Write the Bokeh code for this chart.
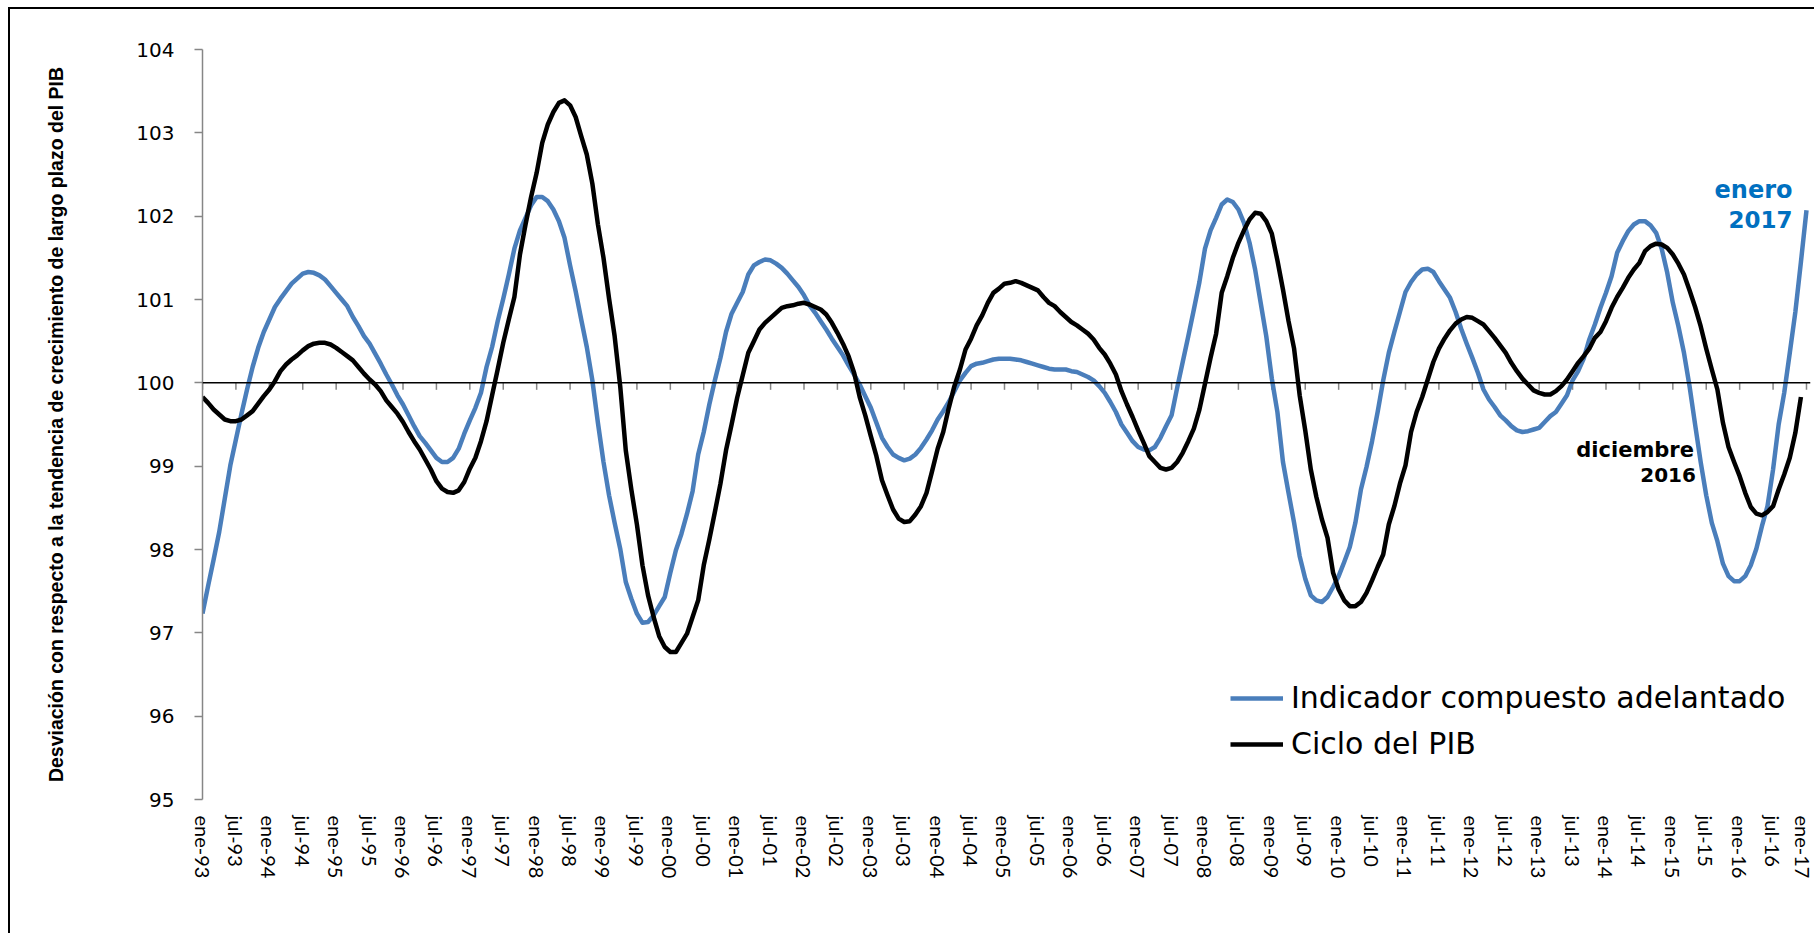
from bokeh.plotting import figure
from bokeh.models import Range1d, FixedTicker, Span, Legend, LegendItem, Label
from bokeh.embed import file_html
from bokeh.resources import INLINE

# Indicador compuesto adelantado, monthly from ene-1993 to ene-2017
indicador = [
    97.23, 97.56, 97.88, 98.21, 98.61, 99.01, 99.32, 99.63, 99.92, 100.19, 100.42, 100.61,
    100.76, 100.91, 101.01, 101.10, 101.19, 101.25, 101.31, 101.33, 101.32, 101.29, 101.24, 101.16,
    101.08, 101.00, 100.92, 100.79, 100.68, 100.56, 100.47, 100.35, 100.23, 100.10, 99.98, 99.85,
    99.74, 99.61, 99.48, 99.36, 99.28, 99.19, 99.10, 99.05, 99.05, 99.10, 99.21, 99.39,
    99.55, 99.70, 99.88, 100.19, 100.43, 100.74, 101.01, 101.30, 101.61, 101.83, 101.98, 102.13,
    102.23, 102.23, 102.18, 102.08, 101.94, 101.74, 101.41, 101.10, 100.76, 100.43, 100.03, 99.52,
    99.05, 98.65, 98.32, 98.01, 97.61, 97.41, 97.23, 97.12, 97.13, 97.21, 97.32, 97.43,
    97.72, 97.99, 98.19, 98.43, 98.70, 99.14, 99.41, 99.74, 100.03, 100.30, 100.61, 100.83,
    100.96, 101.09, 101.30, 101.41, 101.45, 101.48, 101.47, 101.43, 101.38, 101.31, 101.23, 101.15,
    101.05, 100.93, 100.84, 100.74, 100.64, 100.53, 100.43, 100.33, 100.21, 100.10, 99.98, 99.84,
    99.70, 99.52, 99.34, 99.23, 99.14, 99.10, 99.07, 99.09, 99.14, 99.22, 99.32, 99.43,
    99.56, 99.66, 99.77, 99.90, 100.03, 100.12, 100.20, 100.23, 100.24, 100.26, 100.28, 100.29,
    100.29, 100.29, 100.28, 100.27, 100.25, 100.23, 100.21, 100.19, 100.17, 100.16, 100.16, 100.16,
    100.14, 100.13, 100.10, 100.07, 100.03, 99.96, 99.88, 99.77, 99.65, 99.50, 99.40, 99.30,
    99.23, 99.20, 99.19, 99.23, 99.34, 99.48, 99.61, 99.94, 100.25, 100.56, 100.88, 101.21,
    101.61, 101.83, 101.98, 102.14, 102.20, 102.17, 102.08, 101.92, 101.68, 101.36, 100.96, 100.56,
    100.05, 99.65, 99.05, 98.68, 98.32, 97.92, 97.65, 97.45, 97.39, 97.37, 97.43, 97.55,
    97.68, 97.85, 98.03, 98.32, 98.72, 98.99, 99.30, 99.65, 100.03, 100.36, 100.61, 100.85,
    101.09, 101.21, 101.30, 101.36, 101.37, 101.33, 101.22, 101.12, 101.02, 100.85, 100.65, 100.47,
    100.30, 100.12, 99.92, 99.80, 99.71, 99.61, 99.55, 99.48, 99.43, 99.41, 99.42, 99.44,
    99.46, 99.53, 99.60, 99.65, 99.75, 99.85, 100.03, 100.14, 100.29, 100.52, 100.70, 100.90,
    101.08, 101.28, 101.56, 101.70, 101.82, 101.90, 101.94, 101.94, 101.89, 101.80, 101.61, 101.32,
    100.96, 100.68, 100.36, 99.96, 99.50, 99.05, 98.65, 98.32, 98.10, 97.83, 97.68, 97.62,
    97.62, 97.68, 97.81, 98.01, 98.28, 98.52, 98.96, 99.50, 99.88, 100.36, 100.85, 101.45,
    102.07,
]

# Ciclo del PIB, monthly from ene-1993 to dic-2016
ciclo = [
    99.83, 99.76, 99.68, 99.62, 99.56, 99.54, 99.54, 99.56, 99.61, 99.66, 99.75, 99.84,
    99.92, 100.02, 100.14, 100.22, 100.28, 100.33, 100.39, 100.44, 100.47, 100.48, 100.48, 100.46,
    100.42, 100.37, 100.32, 100.27, 100.19, 100.11, 100.04, 99.98, 99.90, 99.79, 99.71, 99.63,
    99.53, 99.41, 99.30, 99.20, 99.08, 98.96, 98.82, 98.73, 98.69, 98.68, 98.71, 98.81,
    98.97, 99.10, 99.30, 99.54, 99.85, 100.16, 100.48, 100.76, 101.03, 101.54, 101.90, 102.23,
    102.52, 102.88, 103.10, 103.25, 103.36, 103.39, 103.33, 103.19, 102.96, 102.74, 102.39, 101.90,
    101.50, 101.01, 100.56, 99.96, 99.19, 98.72, 98.30, 97.81, 97.45, 97.19, 96.96, 96.83,
    96.77, 96.77, 96.88, 96.99, 97.19, 97.39, 97.81, 98.12, 98.45, 98.79, 99.19, 99.50,
    99.82, 100.09, 100.36, 100.50, 100.64, 100.72, 100.78, 100.84, 100.90, 100.92, 100.93, 100.95,
    100.96, 100.94, 100.91, 100.88, 100.82, 100.72, 100.60, 100.47, 100.32, 100.12, 99.83, 99.61,
    99.36, 99.12, 98.83, 98.65, 98.48, 98.37, 98.33, 98.34, 98.42, 98.52, 98.68, 98.94,
    99.21, 99.41, 99.70, 99.96, 100.16, 100.40, 100.53, 100.69, 100.81, 100.96, 101.08, 101.13,
    101.19, 101.20, 101.22, 101.20, 101.17, 101.14, 101.11, 101.03, 100.96, 100.92, 100.85, 100.79,
    100.73, 100.69, 100.64, 100.59, 100.52, 100.42, 100.34, 100.23, 100.10, 99.90, 99.74, 99.59,
    99.43, 99.28, 99.12, 99.05, 98.98, 98.96, 98.98, 99.05, 99.16, 99.30, 99.45, 99.68,
    99.99, 100.30, 100.59, 101.08, 101.28, 101.50, 101.68, 101.83, 101.96, 102.04, 102.03, 101.94,
    101.79, 101.47, 101.12, 100.74, 100.41, 99.85, 99.43, 98.96, 98.63, 98.36, 98.14, 97.72,
    97.52, 97.39, 97.32, 97.32, 97.37, 97.48, 97.63, 97.79, 97.94, 98.30, 98.52, 98.79,
    99.01, 99.41, 99.65, 99.83, 100.04, 100.25, 100.41, 100.53, 100.63, 100.71, 100.76, 100.79,
    100.78, 100.74, 100.70, 100.62, 100.54, 100.45, 100.36, 100.24, 100.14, 100.05, 99.98, 99.91,
    99.88, 99.86, 99.86, 99.90, 99.96, 100.04, 100.14, 100.24, 100.32, 100.41, 100.54, 100.61,
    100.74, 100.90, 101.03, 101.14, 101.26, 101.36, 101.44, 101.58, 101.64, 101.67, 101.66, 101.62,
    101.54, 101.43, 101.30, 101.11, 100.91, 100.68, 100.41, 100.16, 99.92, 99.52, 99.23, 99.05,
    98.88, 98.68, 98.51, 98.43, 98.41, 98.45, 98.52, 98.72, 98.90, 99.10, 99.40, 99.83,
]

start_year = 1993
half_year_names = ["ene", "jul"]
y_ticks = [95, 96, 97, 98, 99, 100, 101, 102, 103, 104]
series_names = ["Indicador compuesto adelantado", "Ciclo del PIB"]
y_title = "Desviación con respecto a la tendencia de crecimiento de largo plazo del PIB"

months_ind = list(range(len(indicador)))
months_cic = list(range(len(ciclo)))

last_month = len(indicador) - 1
x_ticks = list(range(0, last_month + 1, 6))
x_labels = {}
for t in x_ticks:
    yr = start_year + t // 12
    nm = half_year_names[(t % 12) // 6]
    x_labels[t] = f"{nm}-{yr % 100:02d}"

BLUE = "#4A7EBB"
GRAY = "#868686"

W, H = 1806, 926
MB_TOP, MB_BOTTOM = 40, 136
p = figure(width=W, height=H,
           x_range=Range1d(0, 288.72), y_range=Range1d(95, 104),
           output_backend="svg", toolbar_location=None,
           min_border_left=192, min_border_right=6,
           min_border_top=MB_TOP, min_border_bottom=MB_BOTTOM)
p.margin = (7, 0, 0, 8)
p.styles = {"border-left": "2px solid black", "border-top": "2px solid black"}
p.xgrid.visible = False
p.ygrid.visible = False
p.outline_line_color = None
p.background_fill_color = "white"
p.border_fill_color = "white"

# bottom axis: labels only
xa = p.xaxis[0]
xa.ticker = FixedTicker(ticks=x_ticks)
xa.major_label_overrides = x_labels
xa.major_label_orientation = "vertical"
xa.axis_line_color = None
xa.major_tick_line_color = None
xa.minor_tick_line_color = None
xa.major_tick_out = 0
xa.major_tick_in = 0
xa.major_label_standoff = 16
xa.major_label_text_font = "Lato"
xa.major_label_text_font_size = "20px"
xa.major_label_text_color = "black"

# left axis
ya = p.yaxis[0]
ya.ticker = FixedTicker(ticks=y_ticks)
ya.axis_line_color = GRAY
ya.axis_line_width = 1.5
ya.major_tick_line_color = GRAY
ya.major_tick_line_width = 1.5
ya.major_tick_out = 8
ya.major_tick_in = 0
ya.minor_tick_line_color = None
ya.major_label_standoff = 20
ya.major_label_text_font = "DejaVu Sans"
ya.major_label_text_font_size = "20px"
ya.major_label_text_color = "black"
ya.axis_label = y_title
ya.axis_label_text_font = "Liberation Sans"
ya.axis_label_text_font_style = "bold"
ya.axis_label_text_font_size = "19.5px"
ya.axis_label_text_color = "black"
ya.axis_label_standoff = 66

# horizontal axis line at 100 with tick marks
p.add_layout(Span(location=100, dimension="width", line_color="black", line_width=1.5))
px_per_unit = (H - MB_TOP - MB_BOTTOM) / (104 - 95)
tick_len = 7 / px_per_unit
p.segment(x0=x_ticks, y0=[100] * len(x_ticks), x1=x_ticks,
          y1=[100 - tick_len] * len(x_ticks), line_color=GRAY, line_width=1.5)

r1 = p.line(months_ind, indicador, line_color=BLUE, line_width=4.5, line_join="round")
r2 = p.line(months_cic, ciclo, line_color="black", line_width=4.5, line_join="round")

legend = Legend(items=[LegendItem(label=series_names[0], renderers=[r1]),
                       LegendItem(label=series_names[1], renderers=[r2])],
                location=(1028, 38), orientation="vertical",
                border_line_color=None, background_fill_alpha=0,
                padding=0, margin=0, glyph_width=53, glyph_height=32,
                label_height=32, spacing=11, label_standoff=8,
                label_text_font="DejaVu Sans", label_text_font_size="30px",
                label_text_color="black")
p.add_layout(legend)

p.add_layout(Label(x=last_month, y=102.31, x_offset=-14, text="enero",
                   text_align="right", text_baseline="alphabetic",
                   text_font="DejaVu Sans", text_font_style="bold",
                   text_font_size="24px", text_color="#0070C0"))
p.add_layout(Label(x=last_month, y=101.96, x_offset=-14, text="2017",
                   text_align="right", text_baseline="alphabetic",
                   text_font="DejaVu Sans", text_font_style="bold",
                   text_font_size="23px", text_color="#0070C0"))
last_cic = len(ciclo) - 1
p.add_layout(Label(x=last_cic, y=99.19, x_offset=-107, text="diciembre",
                   text_align="right", text_baseline="alphabetic",
                   text_font="DejaVu Sans", text_font_style="bold",
                   text_font_size="21px", text_color="black"))
p.add_layout(Label(x=last_cic, y=98.89, x_offset=-105, text="2016",
                   text_align="right", text_baseline="alphabetic",
                   text_font="DejaVu Sans", text_font_style="bold",
                   text_font_size="20px", text_color="black"))

open("out.html", "w").write(file_html(p, INLINE))
